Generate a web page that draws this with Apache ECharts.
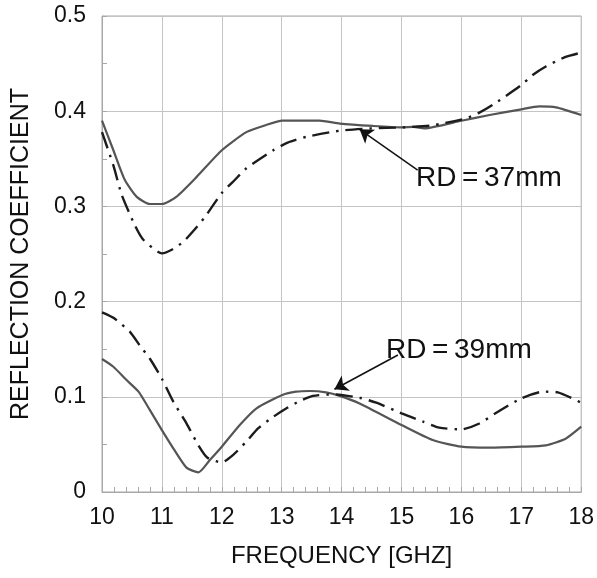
<!DOCTYPE html>
<html>
<head>
<meta charset="utf-8">
<script src="https://cdn.jsdelivr.net/npm/echarts@6/dist/echarts.min.js"></script>
<style>
  html, body { margin: 0; padding: 0; background: #fff; }
  #chart { width: 597px; height: 578px; }
</style>
</head>
<body>
<div id="chart"></div>
<script>
// Frequency axis ticks (GHz) and reflection-coefficient ticks
const freqTicks = [10, 11, 12, 13, 14, 15, 16, 17, 18];
const reflTicks = [0, 0.1, 0.2, 0.3, 0.4, 0.5];

// RD = 37 mm, solid trace
const freq37Solid = [10, 10.19, 10.38, 10.58, 10.8, 11, 11.24, 11.58, 12, 12.41, 12.74, 13.01, 13.63, 13.97, 14.52, 15, 15.2, 15.38, 16, 16.47, 17, 17.3, 17.58, 18];
const refl37Solid = [0.390, 0.359, 0.328, 0.310, 0.3025, 0.3025, 0.310, 0.331, 0.359, 0.378, 0.3855, 0.390, 0.390, 0.387, 0.3845, 0.383, 0.3835, 0.382, 0.390, 0.396, 0.402, 0.405, 0.404, 0.396];

// RD = 37 mm, dash-dot trace
const freq37Dash = [10, 10.19, 10.33, 10.55, 10.69, 11, 11.18, 11.36, 11.55, 11.72, 12, 12.22, 12.41, 12.86, 13.1, 13.41, 13.97, 14.5, 15, 15.5, 16.08, 16.3, 16.52, 17, 17.19, 17.41, 17.74, 18];
const refl37Dash = [0.378, 0.343, 0.312, 0.280, 0.265, 0.2507, 0.255, 0.263, 0.276, 0.289, 0.314, 0.328, 0.340, 0.359, 0.367, 0.373, 0.3795, 0.382, 0.383, 0.385, 0.3925, 0.3985, 0.4065, 0.4275, 0.438, 0.447, 0.457, 0.4615];

// RD = 39 mm, solid trace
const freq39Solid = [10, 10.19, 10.41, 10.61, 10.8, 11, 11.19, 11.41, 11.61, 11.8, 12, 12.3, 12.58, 13.01, 13.24, 13.47, 13.74, 13.97, 14.3, 15, 15.52, 16, 16.47, 17, 17.41, 17.74, 18];
const refl39Solid = [0.1397, 0.1316, 0.1176, 0.1054, 0.086, 0.065, 0.0459, 0.0256, 0.0207, 0.0336, 0.0476, 0.0704, 0.0879, 0.1019, 0.1054, 0.1061, 0.1047, 0.101, 0.093, 0.0704, 0.0546, 0.0476, 0.0466, 0.0476, 0.049, 0.056, 0.0686];

// RD = 39 mm, dash-dot trace
const freq39Dash = [10, 10.19, 10.47, 10.63, 10.8, 11, 11.19, 11.41, 11.61, 11.76, 12, 12.19, 12.41, 12.61, 12.86, 13.08, 13.3, 13.52, 13.86, 14.3, 14.58, 15, 15.36, 15.63, 16, 16.3, 16.61, 17, 17.36, 17.61, 18];
const refl39Dash = [0.1887, 0.183, 0.168, 0.154, 0.140, 0.119, 0.095, 0.072, 0.049, 0.036, 0.031, 0.039, 0.053, 0.067, 0.079, 0.088, 0.0955, 0.101, 0.1026, 0.099, 0.0938, 0.0826, 0.0739, 0.0676, 0.0658, 0.072, 0.0843, 0.0984, 0.1054, 0.1047, 0.0938];

// Annotation arrows: [text end, arrow tip] in data space
const arrow37 = [[15.27, 0.338], [14.3, 0.381]];
const arrow39 = [[14.94, 0.1439], [13.88, 0.1079]];
const label37 = 'RD\u2009=\u200937mm';
const label39 = 'RD\u2009=\u200939mm';

const pairs = (xs, ys) => xs.map((x, i) => [x, ys[i]]);

const FONT = '"Liberation Sans", Arial, Helvetica, sans-serif';
const AXIS_GREY = '#a8a8a8';
const solidStyle = { color: '#555', width: 2.2, type: 'solid' };
const dashStyle = { color: '#1c1c1c', width: 2.4, type: [17, 7, 2.5, 7] };

const arrowLine = (seg) => [
  { coord: seg[0], symbol: 'none' },
  { coord: seg[1], symbol: 'arrow', symbolSize: 13 }
];

const chart = echarts.init(document.getElementById('chart'), null, { renderer: 'canvas' });

chart.setOption({
  animation: false,
  backgroundColor: '#fff',
  grid: {
    left: 102, right: 15, top: 16, bottom: 86,
    show: true, borderColor: AXIS_GREY, borderWidth: 1
  },
  xAxis: {
    type: 'value',
    min: freqTicks[0], max: freqTicks[freqTicks.length - 1], interval: 1,
    name: 'FREQUENCY [GHZ]',
    nameLocation: 'middle', nameGap: 52,
    nameTextStyle: { fontFamily: FONT, fontSize: 24, color: '#111' },
    axisLine: { show: true, lineStyle: { color: AXIS_GREY, width: 1 } },
    axisTick: { show: true, inside: true, length: 5, lineStyle: { color: AXIS_GREY, width: 1 } },
    minorTick: { show: true, splitNumber: 5, length: 5, lineStyle: { color: AXIS_GREY, width: 1 } },
    splitLine: { show: true, lineStyle: { color: '#c4c4c4', width: 1 } },
    axisLabel: { fontFamily: FONT, fontSize: 23, color: '#111', margin: 14 }
  },
  yAxis: {
    type: 'value',
    min: reflTicks[0], max: reflTicks[reflTicks.length - 1], interval: 0.1,
    name: 'REFLECTION COEFFICIENT',
    nameLocation: 'middle', nameGap: 68,
    nameTextStyle: { fontFamily: FONT, fontSize: 25, color: '#111' },
    axisLine: { show: true, lineStyle: { color: AXIS_GREY, width: 1 } },
    axisTick: { show: true, inside: true, length: 5, lineStyle: { color: AXIS_GREY, width: 1 } },
    minorTick: { show: true, splitNumber: 2, length: 5, lineStyle: { color: AXIS_GREY, width: 1 } },
    splitLine: { show: true, lineStyle: { color: '#c4c4c4', width: 1 } },
    axisLabel: { fontFamily: FONT, fontSize: 23, color: '#111', margin: 16 }
  },
  series: [
    {
      type: 'line', name: 'RD37 solid', data: pairs(freq37Solid, refl37Solid),
      showSymbol: false, smooth: 0.2, lineStyle: solidStyle, z: 3,
      markLine: {
        silent: true, animation: false,
        label: { show: false },
        lineStyle: { color: '#111', width: 1.5, type: 'solid' },
        data: [arrowLine(arrow37), arrowLine(arrow39)]
      }
    },
    {
      type: 'line', name: 'RD37 dash', data: pairs(freq37Dash, refl37Dash),
      showSymbol: false, smooth: 0.2, lineStyle: dashStyle, z: 4
    },
    {
      type: 'line', name: 'RD39 solid', data: pairs(freq39Solid, refl39Solid),
      showSymbol: false, smooth: 0.2, lineStyle: solidStyle, z: 3
    },
    {
      type: 'line', name: 'RD39 dash', data: pairs(freq39Dash, refl39Dash),
      showSymbol: false, smooth: 0.2, lineStyle: dashStyle, z: 4
    }
  ],
  graphic: [
    {
      type: 'text', left: 416, top: 164, z: 10,
      style: { text: label37, font: '28px ' + FONT, fill: '#111' }
    },
    {
      type: 'text', left: 386, top: 336, z: 10,
      style: { text: label39, font: '28px ' + FONT, fill: '#111' }
    }
  ]
});
</script>
</body>
</html>
